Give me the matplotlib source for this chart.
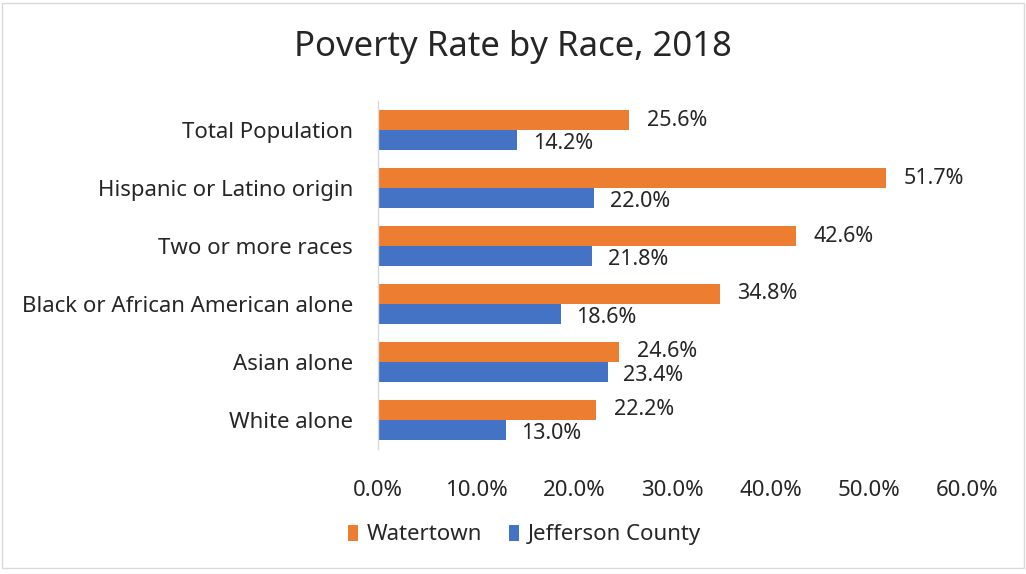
import matplotlib
matplotlib.use("Agg")
import matplotlib.pyplot as plt
from matplotlib.patches import Rectangle
import numpy as np

categories = ["Total Population", "Hispanic or Latino origin", "Two or more races",
              "Black or African American alone", "Asian alone", "White alone"]
watertown = [25.6, 51.7, 42.6, 34.8, 24.6, 22.2]
jefferson = [14.2, 22.0, 21.8, 18.6, 23.4, 13.0]
xticks = [0, 10, 20, 30, 40, 50, 60]
series_names = ["Watertown", "Jefferson County"]

ORANGE = "#ED7D31"
BLUE = "#4472C4"
TXT = "#262626"

plt.rcParams['font.family'] = ['Noto Sans', 'DejaVu Sans']

fig = plt.figure(figsize=(10.26, 5.74), dpi=100)
ax = fig.add_axes([0.3684, 0.2178, 0.5741, 0.6062])

y = np.arange(len(categories))
h = 0.345
ax.barh(y - h / 2, watertown, height=h, color=ORANGE, label=series_names[0])
ax.barh(y + h / 2, jefferson, height=h, color=BLUE, label=series_names[1])

for yi, v in zip(y, watertown):
    ax.text(v + 1.8, yi - h / 2, f"{v:.1f}%", va="center", ha="left", fontsize=15.5, color=TXT)
for yi, v in zip(y, jefferson):
    ax.text(v + 1.6, yi + h / 2 + 0.06, f"{v:.1f}%", va="center", ha="left", fontsize=15.5, color=TXT)

ax.set_ylim(len(categories) - 0.5, -0.5)
ax.set_xlim(0, 60)
ax.set_yticks(y)
ax.set_yticklabels(categories, fontsize=16, color=TXT)
ax.set_xticks(xticks)
ax.set_xticklabels([f"{t:.1f}%" for t in xticks], fontsize=16, color=TXT)
ax.tick_params(axis="both", length=0)
ax.tick_params(axis="x", pad=22)
ax.tick_params(axis="y", pad=18)
for s in ["top", "right", "bottom"]:
    ax.spines[s].set_visible(False)
ax.spines["left"].set_color("#D9D9D9")
ax.spines["left"].set_linewidth(1.0)

fig.text(0.5, 1 - 47 / 574, "Poverty Rate by Race, 2018", ha="center", va="center",
         fontsize=25, color=TXT)

leg = fig.legend(loc="center", bbox_to_anchor=(0.511, 0.068), ncol=2, frameon=False,
                 fontsize=16, handlelength=0.45, handleheight=0.75, handletextpad=0.4,
                 columnspacing=1.2, labelcolor=TXT)

fig.patches.append(Rectangle((0.002, 0.01), 0.996, 0.985, transform=fig.transFigure,
                             fill=False, edgecolor="#D9D9D9", linewidth=1.0))

fig.savefig("out.png", dpi=100)
